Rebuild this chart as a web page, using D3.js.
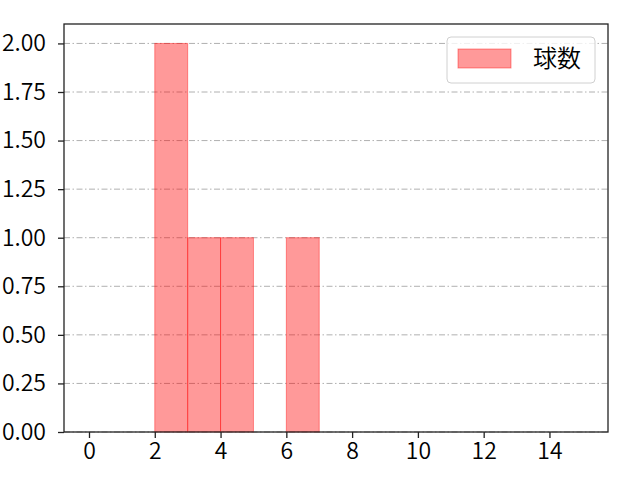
<!DOCTYPE html>
<html>
<head>
<meta charset="utf-8">
<script src="https://cdn.jsdelivr.net/npm/d3@7"></script>
<style>
  body { margin: 0; background: #fff; }
  text { font-family: "Noto Sans CJK JP", "DejaVu Sans", sans-serif; font-weight: 350; }
</style>
</head>
<body>
<div id="chart"></div>
<script>
// histogram bins (left edge, right edge) and counts
var binStart = [2, 3, 4, 6];
var binEnd = [3, 4, 5, 7];
var counts = [2, 1, 1, 1];
var xTicks = [0, 2, 4, 6, 8, 10, 12, 14];
var yTicks = [0, 0.25, 0.5, 0.75, 1, 1.25, 1.5, 1.75, 2];
var seriesName = "球数";

const margin = {top: 24, right: 32, bottom: 48, left: 64},
      width = 640 - margin.left - margin.right,
      height = 480 - margin.top - margin.bottom;

const svg = d3.select("#chart")
  .append("svg")
  .attr("width", 640)
  .attr("height", 480)
  .append("g")
  .attr("transform", `translate(${margin.left},${margin.top})`);

const x = d3.scaleLinear().domain([-0.76, 15.78]).range([0, width]);
const y = d3.scaleLinear().domain([0, 2.1]).range([height, 0]);

// grid
svg.selectAll(".grid")
  .data(yTicks)
  .enter().append("line")
  .attr("x1", 0).attr("x2", width)
  .attr("y1", d => y(d)).attr("y2", d => y(d))
  .attr("stroke", "#b0b0b0")
  .attr("stroke-width", 1)
  .attr("stroke-dasharray", "6,2.5,1.5,2.5");

// bars
const bars = binStart.map((s, i) => ({s: s, e: binEnd[i], c: counts[i]}));
svg.selectAll(".bar")
  .data(bars)
  .enter().append("rect")
  .attr("x", d => x(d.s))
  .attr("width", d => x(d.e) - x(d.s))
  .attr("y", d => y(d.c))
  .attr("height", d => y(0) - y(d.c))
  .attr("fill", "rgba(255,0,0,0.4)")
  .attr("stroke", "rgba(255,0,0,0.4)")
  .attr("stroke-width", 1);

// axes
const xAxis = svg.append("g")
  .attr("transform", `translate(0,${height})`)
  .call(d3.axisBottom(x).tickValues(xTicks).tickSize(6).tickPadding(5).tickFormat(d3.format("d")));
const yAxis = svg.append("g")
  .call(d3.axisLeft(y).tickValues(yTicks).tickSize(6).tickPadding(12).tickFormat(d3.format(".2f")));
[xAxis, yAxis].forEach(a => {
  a.select(".domain").remove();
  a.selectAll("line").attr("stroke", "#222").attr("stroke-width", 1.3);
  a.selectAll("text").attr("font-size", 23).attr("fill", "#000");
});

// frame
svg.append("rect")
  .attr("width", width).attr("height", height)
  .attr("fill", "none").attr("stroke", "#222").attr("stroke-width", 1.3);

// legend
const lg = svg.append("g").attr("transform", `translate(${width - 161},13)`);
lg.append("rect")
  .attr("width", 148).attr("height", 46).attr("rx", 4)
  .attr("fill", "rgba(255,255,255,0.8)").attr("stroke", "#d0d0d0");
lg.append("rect")
  .attr("x", 11).attr("y", 12).attr("width", 53).attr("height", 19)
  .attr("fill", "rgba(255,0,0,0.4)").attr("stroke", "rgba(255,0,0,0.4)");
lg.append("text")
  .attr("x", 86).attr("y", 30)
  .attr("font-size", 24).attr("fill", "#000")
  .text(seriesName);
</script>
</body>
</html>
